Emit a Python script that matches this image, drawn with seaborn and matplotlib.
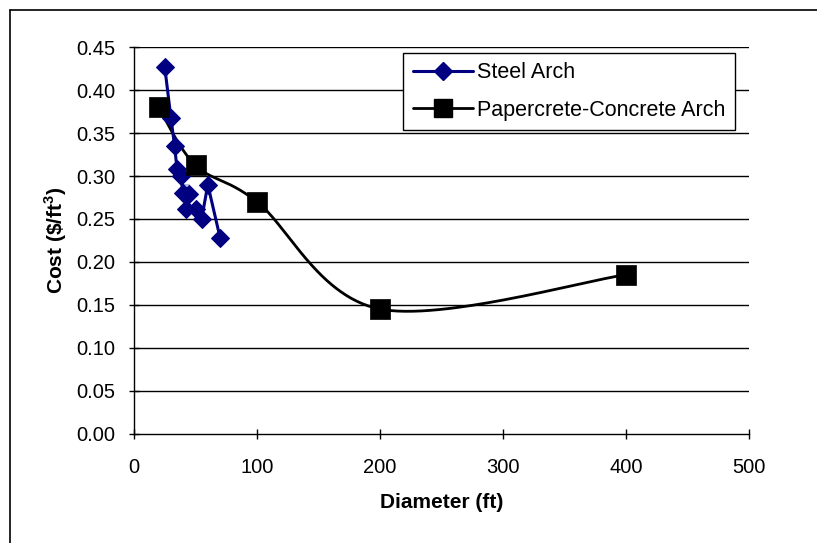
import numpy as np
import pandas as pd
import seaborn as sns
import matplotlib
matplotlib.use("Agg")
import matplotlib.pyplot as plt
from matplotlib.lines import Line2D

# Steel arch cost per cubic foot, in the order the series was recorded
steel_diameter = [25, 30, 33, 35, 38, 40, 45, 40, 42, 45, 50, 55, 55, 60, 70]
steel_cost = [0.427, 0.368, 0.335, 0.308, 0.300, 0.290, 0.290, 0.270, 0.262,
              0.268, 0.262, 0.255, 0.245, 0.290, 0.228]

# Papercrete-concrete arch cost per cubic foot
paper_diameter = [20, 50, 100, 200, 400]
paper_cost = [0.380, 0.3125, 0.270, 0.145, 0.185]

x_ticks = [0, 100, 200, 300, 400, 500]
y_ticks = [0.00, 0.05, 0.10, 0.15, 0.20, 0.25, 0.30, 0.35, 0.40, 0.45]
y_tick_labels = [f"{v:.2f}" for v in y_ticks]

STEEL = "#000080"
FONT = "Liberation Sans"


def smooth_curve(xs, ys, n=60):
    """Catmull-Rom style cubic Bezier through every point (spreadsheet 'smoothed line')."""
    p = np.column_stack([xs, ys]).astype(float)
    p = np.vstack([p[0], p, p[-1]])
    out = []
    for i in range(1, len(p) - 2):
        p0, p1, p2, p3 = p[i - 1], p[i], p[i + 1], p[i + 2]
        c1 = p1 + (p2 - p0) / 6.0
        c2 = p2 - (p3 - p1) / 6.0
        t = np.linspace(0, 1, n)[:, None]
        seg = ((1 - t) ** 3) * p1 + 3 * ((1 - t) ** 2) * t * c1 \
            + 3 * (1 - t) * t ** 2 * c2 + t ** 3 * p2
        out.append(seg if i == 1 else seg[1:])
    curve = np.vstack(out)
    return curve[:, 0], curve[:, 1]


sns.set_theme(style="white")
plt.rcParams["font.family"] = [FONT, "DejaVu Sans"]
plt.rcParams["mathtext.fontset"] = "custom"
plt.rcParams["mathtext.rm"] = FONT
plt.rcParams["mathtext.bf"] = f"{FONT}:bold"
plt.rcParams["text.color"] = "black"
plt.rcParams["axes.labelcolor"] = "black"

fig = plt.figure(figsize=(8.17, 5.43), dpi=100)
ax = fig.add_axes([134 / 817, 1 - 433.5 / 543, (749 - 134) / 817, (433.5 - 47.3) / 543])

steel_df = pd.DataFrame({"Diameter": steel_diameter, "Cost": steel_cost})
sx, sy = smooth_curve(paper_diameter, paper_cost)
curve_df = pd.DataFrame({"Diameter": sx, "Cost": sy})
paper_df = pd.DataFrame({"Diameter": paper_diameter, "Cost": paper_cost})

# Horizontal gridlines
for v in y_ticks[1:]:
    ax.axhline(v, color="black", lw=1.0, zorder=0.5)

# Papercrete-concrete arch: smoothed line plus square markers
sns.lineplot(data=curve_df, x="Diameter", y="Cost", sort=False, color="black",
             lw=2.0, ax=ax, zorder=2)
sns.scatterplot(data=paper_df, x="Diameter", y="Cost", marker="s", s=200,
                color="black", edgecolor="black", linewidth=0.5, ax=ax, zorder=4)

# Steel arch: straight segments with diamond markers
sns.lineplot(data=steel_df, x="Diameter", y="Cost", sort=False, color=STEEL,
             lw=2.2, marker="D", markersize=9.5, markeredgecolor=STEEL,
             markerfacecolor=STEEL, ax=ax, zorder=3)

ax.set_xlim(0, 500)
ax.set_ylim(0, 0.45)
ax.set_xticks(x_ticks)
ax.set_xticklabels([str(v) for v in x_ticks])
ax.set_yticks(y_ticks)
ax.set_yticklabels(y_tick_labels)
ax.tick_params(axis="both", which="major", direction="inout", length=7, width=1,
               color="black", labelsize=14.5, labelcolor="black",
               bottom=True, left=True)
ax.tick_params(axis="y", pad=10)
ax.tick_params(axis="x", pad=14)

for side in ["top", "right"]:
    ax.spines[side].set_visible(False)
for side in ["left", "bottom"]:
    ax.spines[side].set_color("black")
    ax.spines[side].set_linewidth(1.0)
ax.set_facecolor("white")

ax.set_xlabel("Diameter (ft)", fontsize=15, fontweight="bold", labelpad=12,
              color="black")
ax.set_ylabel(r"Cost (\$/ft$^{\mathbf{3}}$)", fontsize=15, fontweight="bold",
              labelpad=5, color="black")

handles = [
    Line2D([], [], color=STEEL, lw=2.2, marker="D", markersize=9.5,
           markerfacecolor=STEEL, markeredgecolor=STEEL),
    Line2D([], [], color="black", lw=2.0, marker="s", markersize=13,
           markerfacecolor="black", markeredgecolor="black"),
]
leg = ax.legend(handles, ["Steel Arch", "Papercrete-Concrete Arch"],
                loc="upper left",
                bbox_to_anchor=((403 - 134) / 615, (433.5 - 52.7) / 386.2),
                borderaxespad=0, frameon=True, fancybox=False, framealpha=1,
                edgecolor="black", fontsize=15.5, handlelength=2.8,
                handletextpad=0.2, labelspacing=0.75, borderpad=0.45)
leg.get_frame().set_linewidth(1.0)
leg.set_zorder(10)
for txt in leg.get_texts():
    txt.set_color("black")

# Outer chart border (left and top edges visible)
fig.add_artist(Line2D([10 / 817, 10 / 817], [0, 1 - 10 / 543], color="black",
                      lw=1.2, transform=fig.transFigure))
fig.add_artist(Line2D([10 / 817, 1], [1 - 10 / 543, 1 - 10 / 543], color="black",
                      lw=1.2, transform=fig.transFigure))

fig.savefig("out.png", dpi=100, facecolor="white")
